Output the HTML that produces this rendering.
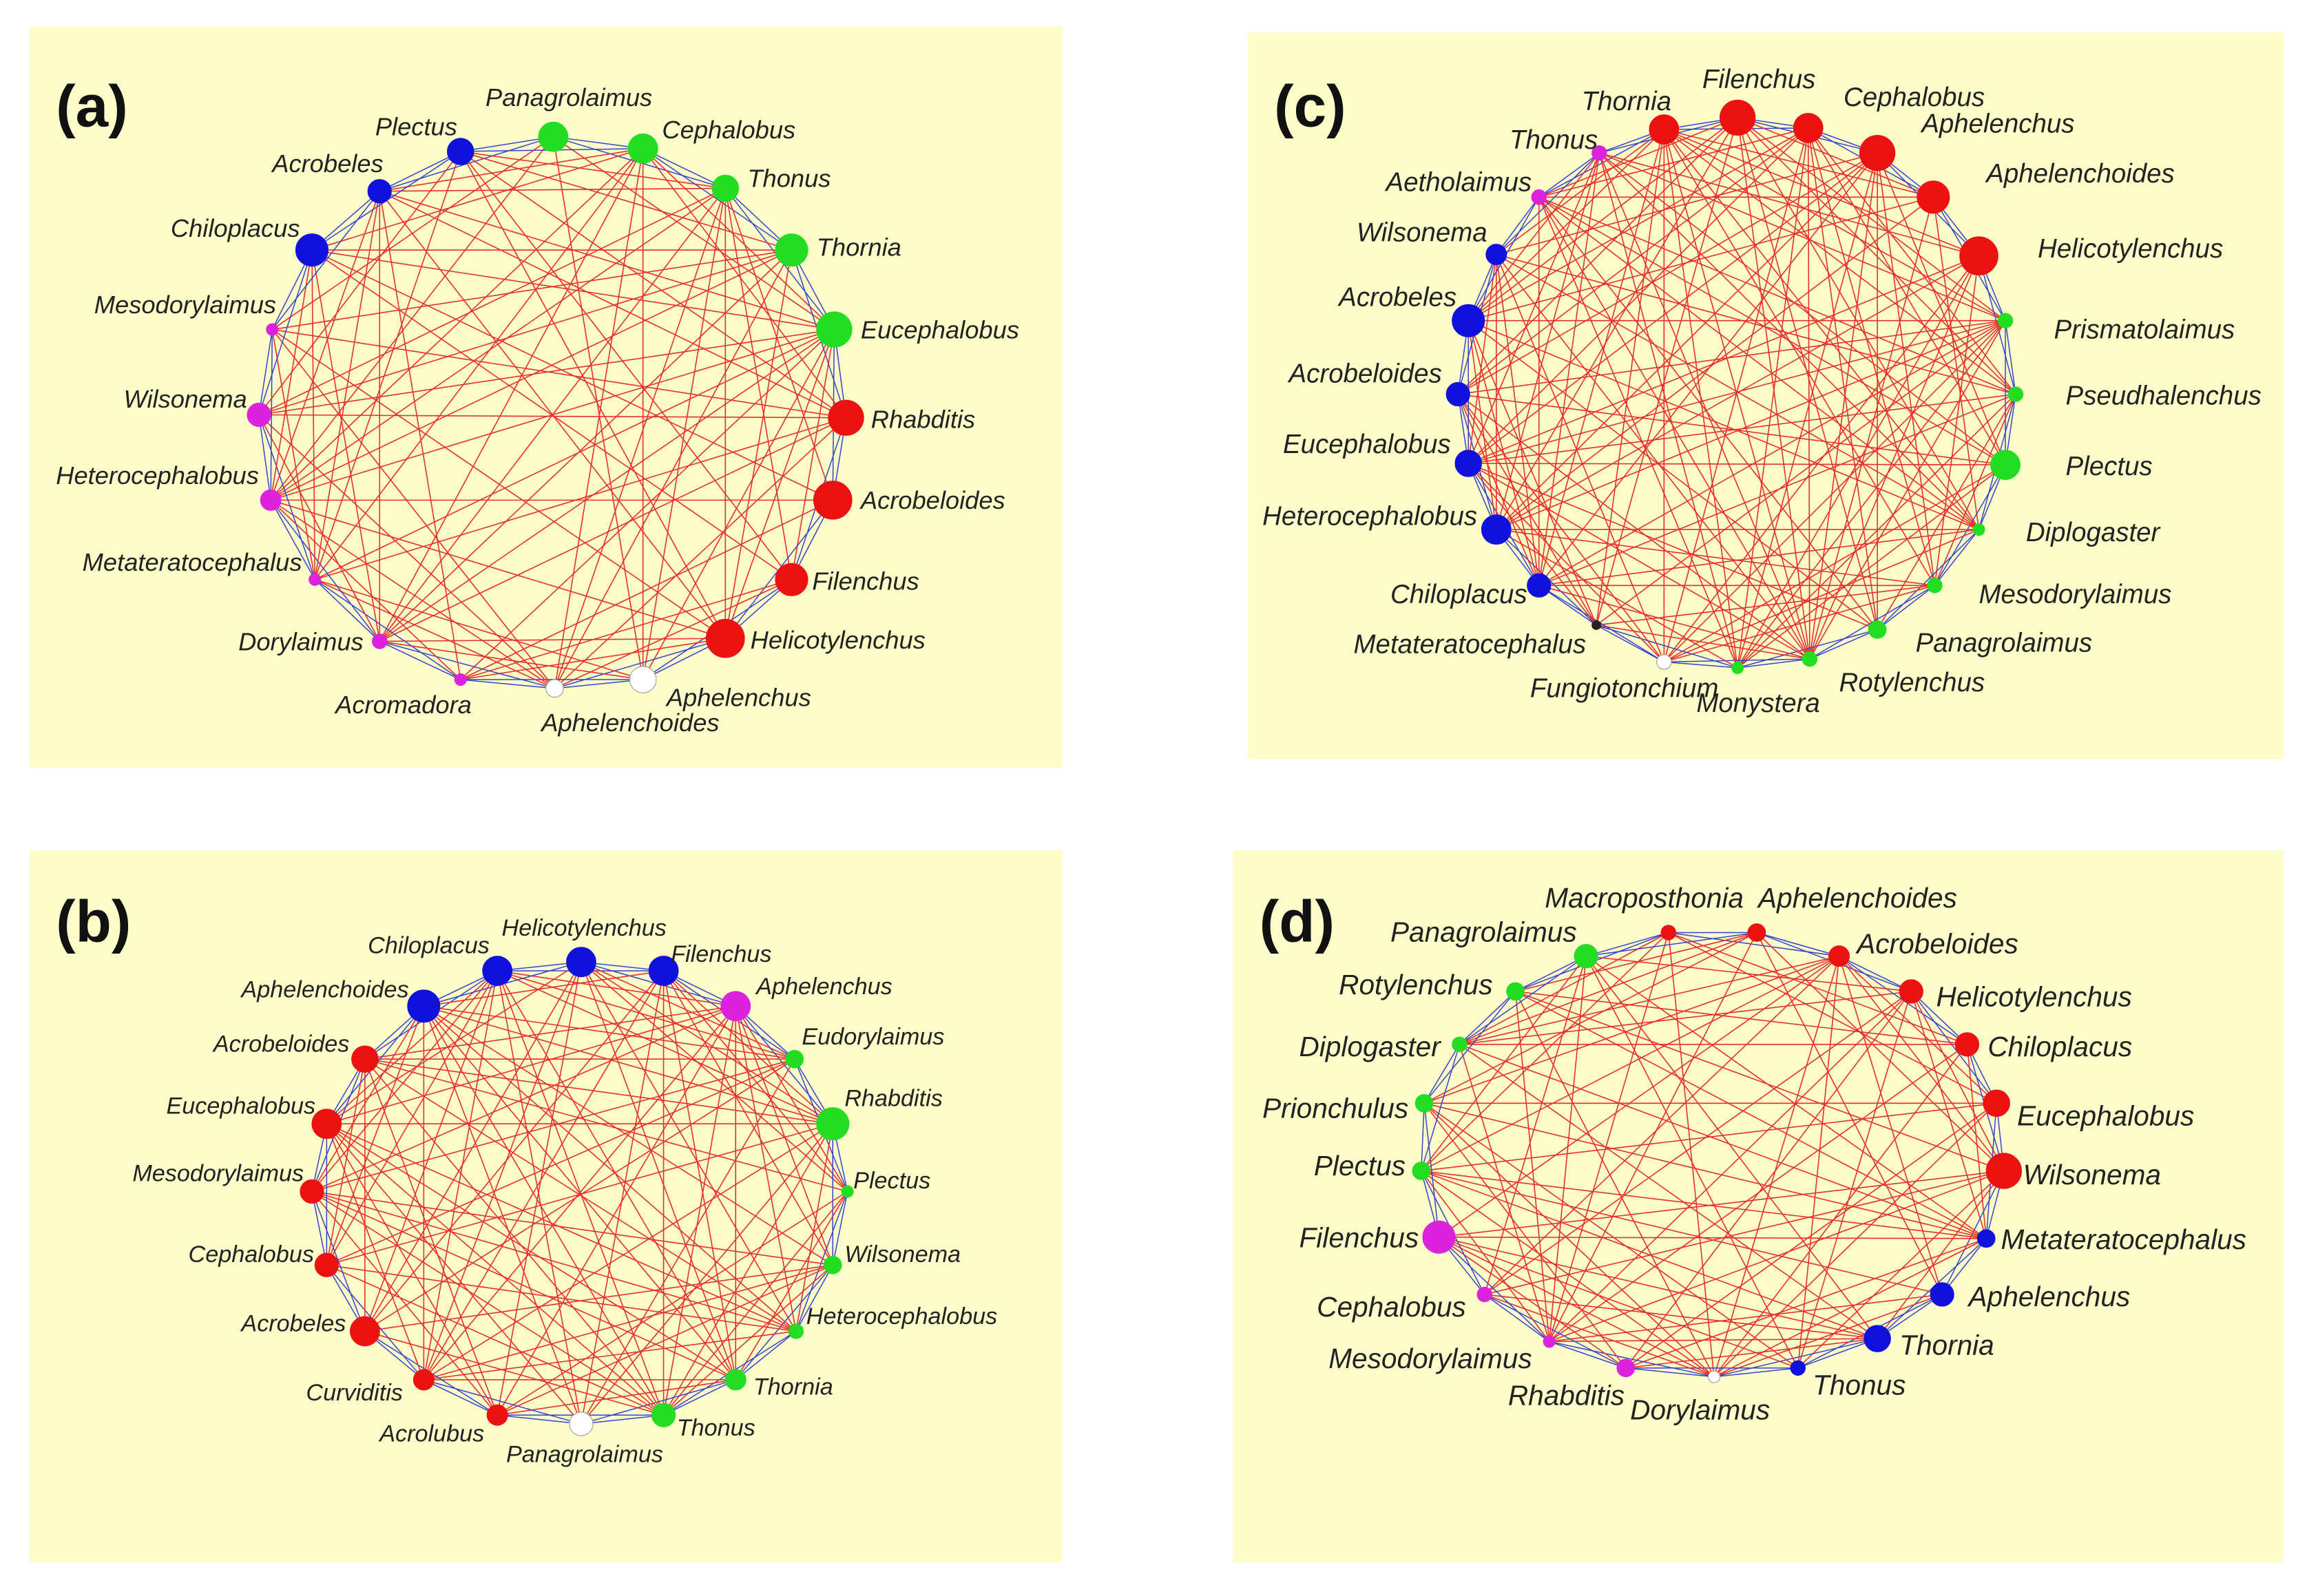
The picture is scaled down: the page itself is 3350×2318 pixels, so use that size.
<!DOCTYPE html>
<html><head><meta charset="utf-8"><style>
html,body{margin:0;padding:0;background:#fff;}
svg{display:block;}
text{font-family:"Liberation Sans",sans-serif;font-style:italic;fill:#222;}
.big{font-style:normal;font-weight:bold;font-size:40px;fill:#111;}
</style></head><body>
<svg width="3350" height="2318" viewBox="0 0 1568 1085" xmlns="http://www.w3.org/2000/svg">
<rect x="0" y="0" width="1568" height="1085" fill="#fff"/>
<rect x="20" y="18" width="702" height="504" fill="#fdfdca"/>
<rect x="848" y="22" width="704" height="494" fill="#fdfdca"/>
<rect x="20" y="578" width="702" height="484" fill="#fdfdca"/>
<rect x="838" y="578" width="714" height="484" fill="#fdfdca"/>
<g id="edges"></g>
<g id="nodes"></g>
<text class="big" x="38" y="86">(a)</text>
<text class="big" x="866" y="86">(c)</text>
<text class="big" x="38" y="640">(b)</text>
<text class="big" x="856" y="640">(d)</text>
<g font-size="17">
<text x="330" y="72">Panagrolaimus</text><text x="450" y="94">Cephalobus</text><text x="508" y="127">Thonus</text><text x="555" y="174">Thornia</text><text x="585" y="230">Eucephalobus</text><text x="592" y="291">Rhabditis</text><text x="585" y="346">Acrobeloides</text><text x="552" y="401">Filenchus</text><text x="510" y="441">Helicotylenchus</text><text x="453" y="480">Aphelenchus</text><text x="368" y="497">Aphelenchoides</text><text x="228" y="485">Acromadora</text><text x="162" y="442">Dorylaimus</text><text x="56" y="388">Metateratocephalus</text><text x="38" y="329">Heterocephalobus</text><text x="84" y="277">Wilsonema</text><text x="64" y="213">Mesodorylaimus</text><text x="116" y="161">Chiloplacus</text><text x="185" y="117">Acrobeles</text><text x="255" y="92">Plectus</text>
</g>
<g font-size="18">
<text x="1075" y="75">Thornia</text><text x="1157" y="60">Filenchus</text><text x="1253" y="72">Cephalobus</text><text x="1306" y="90">Aphelenchus</text><text x="1350" y="124">Aphelenchoides</text><text x="1385" y="175">Helicotylenchus</text><text x="1396" y="230">Prismatolaimus</text><text x="1404" y="275">Pseudhalenchus</text><text x="1404" y="323">Plectus</text><text x="1377" y="368">Diplogaster</text><text x="1345" y="410">Mesodorylaimus</text><text x="1302" y="443">Panagrolaimus</text><text x="1250" y="470">Rotylenchus</text><text x="1153" y="484">Monystera</text><text x="1040" y="474">Fungiotonchium</text><text x="920" y="444">Metateratocephalus</text><text x="945" y="410">Chiloplacus</text><text x="858" y="357">Heterocephalobus</text><text x="872" y="308">Eucephalobus</text><text x="876" y="260">Acrobeloides</text><text x="910" y="208">Acrobeles</text><text x="922" y="164">Wilsonema</text><text x="942" y="130">Aetholaimus</text><text x="1026" y="101">Thonus</text>
</g>
<g font-size="16">
<text x="250" y="648">Chiloplacus</text><text x="341" y="636">Helicotylenchus</text><text x="456" y="654">Filenchus</text><text x="514" y="676">Aphelenchus</text><text x="545" y="710">Eudorylaimus</text><text x="574" y="752">Rhabditis</text><text x="580" y="808">Plectus</text><text x="574" y="858">Wilsonema</text><text x="548" y="900">Heterocephalobus</text><text x="512" y="948">Thornia</text><text x="460" y="976">Thonus</text><text x="344" y="994">Panagrolaimus</text><text x="258" y="980">Acrolubus</text><text x="208" y="952">Curviditis</text><text x="164" y="905">Acrobeles</text><text x="128" y="858">Cephalobus</text><text x="90" y="803">Mesodorylaimus</text><text x="113" y="757">Eucephalobus</text><text x="145" y="715">Acrobeloides</text><text x="164" y="678">Aphelenchoides</text>
</g>
<g font-size="19">
<text x="1050" y="617">Macroposthonia</text><text x="1195" y="617">Aphelenchoides</text><text x="1262" y="648">Acrobeloides</text><text x="1316" y="684">Helicotylenchus</text><text x="1351" y="718">Chiloplacus</text><text x="1371" y="765">Eucephalobus</text><text x="1375" y="805">Wilsonema</text><text x="1360" y="849">Metateratocephalus</text><text x="1338" y="888">Aphelenchus</text><text x="1291" y="921">Thornia</text><text x="1232" y="948">Thonus</text><text x="1108" y="965">Dorylaimus</text><text x="1025" y="955">Rhabditis</text><text x="903" y="930">Mesodorylaimus</text><text x="895" y="895">Cephalobus</text><text x="883" y="848">Filenchus</text><text x="893" y="799">Plectus</text><text x="858" y="760">Prionchulus</text><text x="883" y="718">Diplogaster</text><text x="910" y="676">Rotylenchus</text><text x="945" y="640">Panagrolaimus</text>
</g>
</svg>
<script>
var R='#ee1111',G='#22dd22',B='#1111dd',M='#dd22dd',W='#ffffff',K='#222';
var P=[
[[376,93,10,G],[437,101,10,G],[493,128,9,G],[538,170,11,G],[567,224,12,G],[575,284,12,R],[566,340,13,R],[538,394,11,R],[493,434,13,R],[437,462,9,W],[377,468,6,W],[313,462,4,M],[258,436,5,M],[214,394,4,M],[184,340,7,M],[176,282,8,M],[185,224,4,M],[212,170,11,B],[258,130,8,B],[313,103,9,B]],
[[1131,88,10,R],[1181,80,12,R],[1229,87,10,R],[1276,104,12,R],[1314,134,11,R],[1345,174,13,R],[1363,218,5,G],[1370,268,5,G],[1363,316,10,G],[1345,360,4,G],[1315,398,5,G],[1276,428,6,G],[1230,448,5,G],[1181,454,4,G],[1131,450,5,W],[1085,425,3,K],[1046,398,8,B],[1017,360,10,B],[998,315,9,B],[991,268,8,B],[998,218,11,B],[1017,173,7,B],[1046,134,5,M],[1087,104,5,M]],
[[338,660,10,B],[395,654,10,B],[451,660,10,B],[500,684,10,M],[540,720,6,G],[566,764,11,G],[576,810,4,G],[566,860,6,G],[541,905,5,G],[500,938,7,G],[451,962,8,G],[395,968,8,W],[338,962,7,R],[288,938,7,R],[248,905,10,R],[222,860,8,R],[212,810,8,R],[222,764,10,R],[248,720,9,R],[288,684,11,B]],
[[1134,634,5,R],[1194,634,6,R],[1250,650,7,R],[1299,674,8,R],[1337,710,8,R],[1357,750,9,R],[1362,796,12,R],[1350,842,6,B],[1320,880,8,B],[1276,910,9,B],[1222,930,5,B],[1165,936,4,W],[1105,930,6,M],[1053,912,4,M],[1009,880,5,M],[978,841,11,M],[966,796,6,G],[968,750,6,G],[992,710,5,G],[1030,674,6,G],[1078,650,8,G]]];
var ns='http://www.w3.org/2000/svg',E=document.getElementById('edges'),N=document.getElementById('nodes');
var s=12345;function rnd(){s=(s*1103515245+12345)%2147483648;return s/2147483648;}
function ln(a,b,c,w){var l=document.createElementNS(ns,'line');l.setAttribute('x1',a[0]);l.setAttribute('y1',a[1]);l.setAttribute('x2',b[0]);l.setAttribute('y2',b[1]);l.setAttribute('stroke',c);l.setAttribute('stroke-width',w);E.appendChild(l);}
P.forEach(function(p){var n=p.length;
for(var i=0;i<n;i++)for(var j=i+1;j<n;j++){var d=Math.min(j-i,n-(j-i));
if(d<=2){ln(p[i],p[j],'#3344cc',0.7);}else if(rnd()<0.55){ln(p[i],p[j],'#e8302a',0.75);}}
p.forEach(function(q){var c=document.createElementNS(ns,'circle');c.setAttribute('cx',q[0]);c.setAttribute('cy',q[1]);c.setAttribute('r',q[2]);c.setAttribute('fill',q[3]);c.setAttribute('stroke',q[3]==W?'#999':q[3]);c.setAttribute('stroke-width',0.5);N.appendChild(c);});});
</script>
</body></html>
